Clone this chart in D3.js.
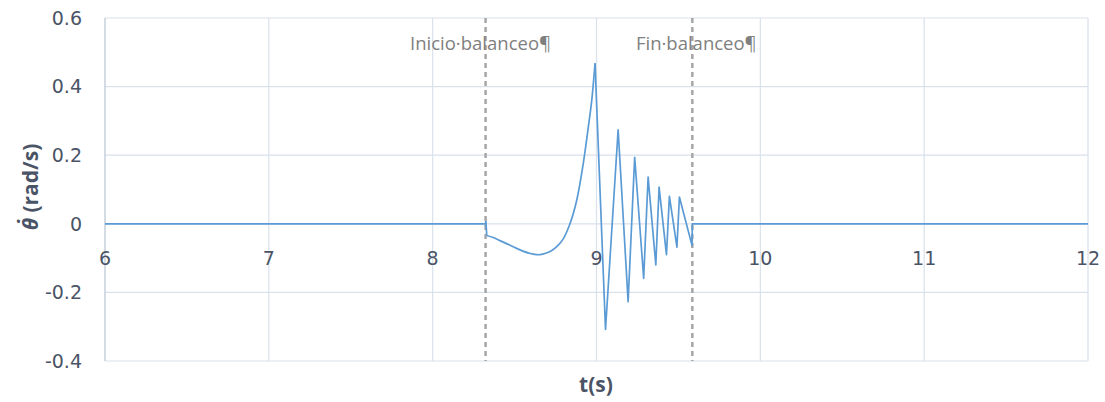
<!DOCTYPE html>
<html>
<head>
<meta charset="utf-8">
<script src="https://cdn.jsdelivr.net/npm/d3@7"></script>
<style>
  html, body { margin: 0; padding: 0; background: #fff; }
  svg { display: block; }
  text { font-family: "Open Sans", "Noto Sans", sans-serif; }
  .tick { font-family: "DejaVu Sans", sans-serif; }
</style>
</head>
<body>
<svg id="chart" width="1105" height="402"></svg>
<script>
// Smooth build-up phase: time (s) and angular velocity (rad/s)
const riseTime = [
  6, 8.322, 8.325, 8.330, 8.370, 8.411, 8.470, 8.533, 8.590, 8.635, 8.655, 8.690, 8.727,
  8.765, 8.797, 8.838, 8.879, 8.919, 8.950, 8.971, 8.991
];
const riseOmega = [
  0, 0, 0.008, -0.034, -0.040, -0.049, -0.062, -0.076, -0.086, -0.090, -0.090, -0.086, -0.078,
  -0.063, -0.044, 0, 0.068, 0.175, 0.282, 0.360, 0.468
];

// Oscillating phase until the end of the record
const oscTime = [
  8.991, 9.055, 9.132, 9.193, 9.233, 9.288, 9.315, 9.362, 9.382, 9.427, 9.445, 9.491, 9.506,
  9.583, 9.585, 12
];
const oscOmega = [
  0.468, -0.308, 0.274, -0.227, 0.194, -0.159, 0.136, -0.12, 0.107, -0.09, 0.080, -0.068, 0.078,
  -0.063, 0, 0
];

// Event markers
const eventTimes = [8.323, 9.585];
const eventLabels = ["Inicio·balanceo¶", "Fin·balanceo¶"];

const xTicks = [6, 7, 8, 9, 10, 11, 12];
const yTicks = [-0.4, -0.2, 0, 0.2, 0.4, 0.6];

const svg = d3.select("#chart");
const x = d3.scaleLinear().domain([6, 12]).range([105, 1088]);
const y = d3.scaleLinear().domain([-0.4, 0.6]).range([361, 18]);

const axisColor = "#4a5466";
const gridColor = "#d9e1ec";

// Grid
svg.append("g").selectAll("line").data(yTicks).join("line")
  .attr("x1", x(6)).attr("x2", x(12))
  .attr("y1", d => y(d)).attr("y2", d => y(d))
  .attr("stroke", gridColor).attr("stroke-width", 1.2);
svg.append("g").selectAll("line").data(xTicks).join("line")
  .attr("x1", d => x(d)).attr("x2", d => x(d))
  .attr("y1", y(0.6)).attr("y2", y(-0.4))
  .attr("stroke", d => d === 6 ? "#b8c4d4" : gridColor).attr("stroke-width", 1.2);

// Y tick labels
svg.append("g").selectAll("text").data(yTicks).join("text")
  .attr("class", "tick")
  .attr("x", 82).attr("y", d => y(d))
  .attr("dy", "0.36em")
  .attr("text-anchor", "end")
  .attr("font-size", 19)
  .attr("fill", axisColor)
  .text(d => String(d));

// X tick labels (axis crosses at zero)
svg.append("g").selectAll("text").data(xTicks).join("text")
  .attr("class", "tick")
  .attr("x", d => x(d)).attr("y", y(0) + 41)
  .attr("text-anchor", "middle")
  .attr("font-size", 19)
  .attr("fill", axisColor)
  .text(d => d);

// Event markers
svg.append("g").selectAll("line").data(eventTimes).join("line")
  .attr("x1", d => x(d)).attr("x2", d => x(d))
  .attr("y1", y(0.6)).attr("y2", y(-0.4))
  .attr("stroke", "#a6a6a6").attr("stroke-width", 2.5)
  .attr("stroke-dasharray", "5,4");

svg.append("g").selectAll("text").data(eventTimes).join("text")
  .attr("x", (d, i) => x(d) + (i === 0 ? -5 : 4))
  .attr("y", 50)
  .attr("text-anchor", "middle")
  .attr("font-size", 18.5)
  .attr("fill", "#808080")
  .text((d, i) => eventLabels[i]);

// Signal
const line = d3.line().x(d => x(d[0])).y(d => y(d[1]));
const risePts = riseTime.map((t, i) => [t, riseOmega[i]]);
const oscPts = oscTime.map((t, i) => [t, oscOmega[i]]);

svg.append("path")
  .datum(risePts.slice(0, 4))
  .attr("fill", "none").attr("stroke", "#5b9bd5").attr("stroke-width", 1.7)
  .attr("d", line);
svg.append("path")
  .datum(risePts.slice(3))
  .attr("fill", "none").attr("stroke", "#5b9bd5").attr("stroke-width", 1.7)
  .attr("d", d3.line().x(d => x(d[0])).y(d => y(d[1])).curve(d3.curveCatmullRom.alpha(0.5)));
svg.append("path")
  .datum(oscPts)
  .attr("fill", "none").attr("stroke", "#5b9bd5").attr("stroke-width", 1.7)
  .attr("stroke-linejoin", "round")
  .attr("d", line);

// Axis titles
svg.append("text")
  .attr("x", 596).attr("y", 392)
  .attr("text-anchor", "middle")
  .attr("font-size", 21).attr("font-weight", "bold")
  .attr("fill", axisColor)
  .text("t(s)");

svg.append("text")
  .attr("transform", "translate(38,187) rotate(-90)")
  .attr("text-anchor", "middle")
  .attr("font-size", 21).attr("font-weight", "bold")
  .attr("fill", axisColor)
  .html('<tspan font-style="italic">θ̇</tspan>  (rad/s)');
</script>
</body>
</html>
